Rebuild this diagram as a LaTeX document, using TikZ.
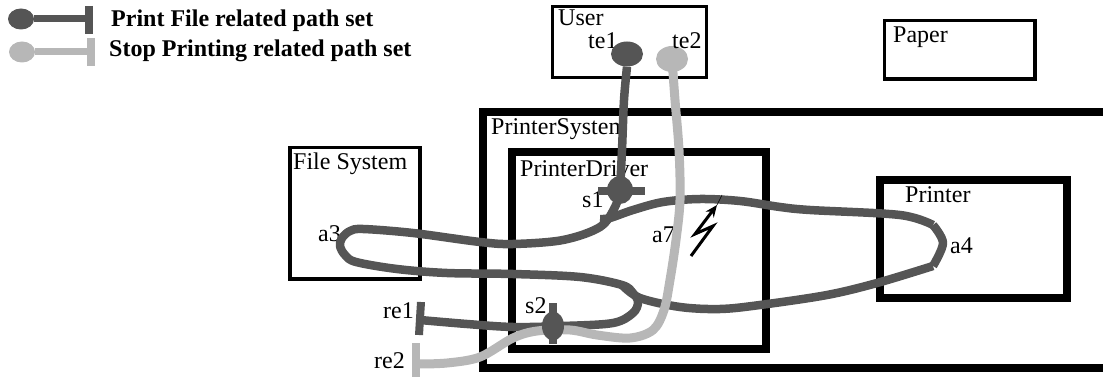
\documentclass[tikz,border=0pt]{standalone}
\usepackage{fontspec}
\setmainfont{Liberation Serif}
\usetikzlibrary{arrows.meta,shapes.geometric}
\definecolor{pathdark}{HTML}{555555}
\definecolor{pathlight}{HTML}{B7B7B7}
\tikzset{
  lbl/.style={anchor=base west,inner sep=0pt,font=\fontsize{24}{26}\selectfont},
  legendlbl/.style={anchor=base west,inner sep=0pt,font=\fontsize{24}{26}\selectfont\bfseries},
  thinbox/.style={draw=black,line width=3.5pt,rectangle,inner sep=0pt},
  thickbox/.style={draw=black,line width=8pt,rectangle,inner sep=0pt},
  darkpath/.style={draw=pathdark,line width=8.5pt,line join=round},
  lightpath/.style={draw=pathlight,line width=9pt,line join=round},
  darkend/.style={draw=none,fill=pathdark,ellipse,inner sep=0pt},
  lightend/.style={draw=none,fill=pathlight,ellipse,inner sep=0pt},
  darkbar/.style={draw=pathdark,line width=8pt},
  lightbar/.style={draw=pathlight,line width=8pt},
}
\begin{document}
\begin{tikzpicture}[x=1pt,y=-1pt]
\useasboundingbox (0,0) rectangle (1103,377);
% boxes
\node[thinbox,minimum width=154pt,minimum height=71pt] (user) at (629.5,42) {};
\node[thinbox,minimum width=150.5pt,minimum height=58.5pt] (paper) at (959.8,50) {};
\node[thinbox,minimum width=130pt,minimum height=131.5pt] (filesys) at (355,213.3) {};
\node[thickbox,minimum width=254pt,minimum height=197pt] (driver) at (639,250.5) {};
\node[thickbox,minimum width=187pt,minimum height=118pt] (printer) at (973.5,239) {};
\coordinate (psA) at (1103,112);
\coordinate (psB) at (483,112);
\coordinate (psC) at (483,368);
\coordinate (psD) at (1103,368);
\draw[black,line width=8pt,line join=miter] (psA) -- (psB) -- (psC) -- (psD);
% labels
\node[lbl] (lUser) at (558,26) {User};
\node[lbl] (lte1) at (588,49) {te1};
\node[lbl] (lPaper) at (893,43) {Paper};
\node[lbl] (lSys) at (491,135) {PrinterSystem};
\node[lbl] (lDrv) at (520,176) {PrinterDriver};
\node[lbl] (ls1) at (582,207) {s1};
\node[lbl] (la7) at (652,242) {a7};
\node[lbl] (lFS) at (293,169) {File System};
\node[lbl] (la3) at (318,241) {a3};
\node[lbl] (la4) at (950,253) {a4};
\node[lbl] (lPr) at (905,202) {Printer};
\node[lbl] (lre1) at (383,318) {re1};
\node[lbl] (lre2) at (374,368) {re2};
\node[lbl] (ls2) at (525,313) {s2};
% legend
\node[darkend,minimum width=26pt,minimum height=21pt] (legA) at (21,19) {};
\coordinate (legAe) at (89,19);
\draw[pathdark,line width=7pt] (legA) -- (legAe);
\draw[darkbar] (89,6) -- (89,34);
\node[lightend,minimum width=26pt,minimum height=21pt] (legB) at (22,52) {};
\coordinate (legBe) at (91,52);
\draw[pathlight,line width=7pt] (legB) -- (legBe);
\draw[lightbar] (91,38) -- (91,66);
\node[legendlbl] (legT1) at (111,27) {Print File related path set};
\node[legendlbl] (legT2) at (109,57) {Stop Printing related path set};
% endpoints
\node[darkend,minimum width=32pt,minimum height=25pt] (te1) at (627,54) {};
\node[lightend,minimum width=32pt,minimum height=26pt] (te2) at (672,59) {};
\node[darkend,minimum width=26pt,minimum height=28pt] (s1) at (620,190) {};
\coordinate (a3) at (340,246);
\coordinate (a4) at (943,243);
\coordinate (re1) at (420,320);
\coordinate (re2) at (416,364);
\coordinate (join) at (622,285);
% dark paths
\draw[darkpath] plot[smooth,tension=0.5] coordinates {(te1.south) (624,100) (622,150) (s1.center)};
\draw[darkbar] (598,191) -- (645,191);
\draw[darkpath] plot[smooth,tension=0.55] coordinates {(s1.center) (615,207) (600,227) (563,240) (513,244) (480,242) (413,233) (363,229) (350,231) (342,238) (a3) (345,255) (356,262) (397,269) (447,273) (513,274) (580,277) (join) (633,293) (638,302) (633,313) (613,323) (563,326) (513,327) (467,324) (re1)};
\draw[darkpath] plot[smooth,tension=0.55] coordinates {(join) (640,298) (680,307) (720,309) (760,305) (827,295) (877,283) (933,266)};
\draw[darkpath] plot[smooth,tension=0.55] coordinates {(933,266) (a4) (933,225)};
\draw[darkpath] plot[smooth,tension=0.55] coordinates {(933,225) (900,215) (810,210) (780,207) (740,201) (700,199) (663,202) (633,210) (610,218) (600,219)};
\draw[darkbar] (421,302) -- (419,335);
% lightning
\coordinate (z1) at (691,256);
\coordinate (z2) at (713,226);
\coordinate (z3) at (695,234);
\coordinate (z4) at (717,205);
\coordinate (z5) at (722,195);
\draw[black,line width=3pt,line join=miter,-{Stealth[length=12pt,width=10pt]}] (z1) -- (z2) -- (z3) -- (z4);
\draw[black,line width=0.6pt] (z4) -- (z5);
% light path
\draw[lightpath] plot[smooth,tension=0.55] coordinates {(te2.center) (675,100) (679,150) (680,200) (676,240) (670,280) (664,310) (653,330) (630,338) (597,335) (570,330) (537,331) (513,338) (480,357) (447,363) (re2)};
\draw[lightbar] (416,343) -- (416,377);
\node[lbl] (lte2) at (672,49) {te2};
% s2 on top
\draw[darkbar] (553,303) -- (553,344);
\node[darkend,minimum width=22pt,minimum height=29pt] (s2) at (553,326) {};
\end{tikzpicture}
\end{document}
